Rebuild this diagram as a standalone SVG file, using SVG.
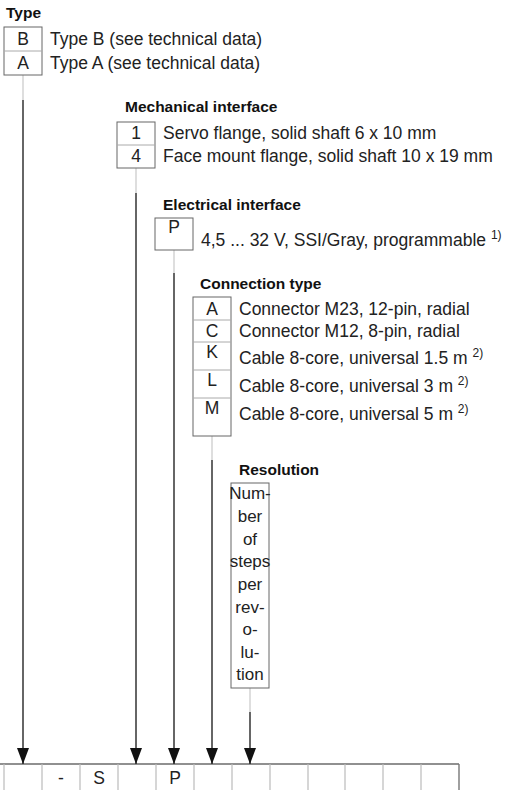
<svg xmlns="http://www.w3.org/2000/svg" width="510" height="790" viewBox="0 0 510 790">
<defs>
<style>
.t{font-family:"Liberation Sans",Arial,sans-serif;font-size:17.5px;fill:#222}
.r{font-family:"Liberation Sans",Arial,sans-serif;font-size:17px;fill:#222;text-anchor:middle}
.h{font-family:"Liberation Sans",Arial,sans-serif;font-size:15.5px;font-weight:bold;fill:#111}
.c{text-anchor:middle}
.box{fill:#fff;stroke:#666;stroke-width:1}
.dv{stroke:#aaa;stroke-width:1}
.lg{stroke:#c8c8c8;stroke-width:1.2;fill:none}
.ld{stroke:#333;stroke-width:1.5;fill:none}
.cell{stroke:#bbb;stroke-width:1.2}
</style>
<marker id="arr" viewBox="0 0 16 12" refX="16" refY="6" markerWidth="16" markerHeight="12" markerUnits="userSpaceOnUse" orient="auto">
<path d="M0,0 L16,6 L0,12 z" fill="#111"/>
</marker>
</defs>
<rect width="510" height="790" fill="#fff"/>

<g id="connectors">
<line class="lg" x1="23" y1="75" x2="23" y2="100"/>
<line class="ld" x1="23" y1="100" x2="23" y2="764" marker-end="url(#arr)"/>
<line class="lg" x1="136" y1="168" x2="136" y2="193"/>
<line class="ld" x1="136" y1="193" x2="136" y2="764" marker-end="url(#arr)"/>
<line class="lg" x1="174" y1="250" x2="174" y2="273"/>
<line class="ld" x1="174" y1="273" x2="174" y2="764" marker-end="url(#arr)"/>
<line class="lg" x1="212" y1="436" x2="212" y2="460"/>
<line class="ld" x1="212" y1="460" x2="212" y2="764" marker-end="url(#arr)"/>
<line class="lg" x1="250" y1="688" x2="250" y2="712"/>
<line class="ld" x1="250" y1="712" x2="250" y2="764" marker-end="url(#arr)"/>
</g>

<g id="type">
<text class="h" x="6" y="18">Type</text>
<rect class="box" x="4" y="27" width="38" height="48"/>
<line class="dv" x1="4" y1="51" x2="42" y2="51"/>
<text class="t c" x="23" y="45">B</text>
<text class="t c" x="23" y="69">A</text>
<text class="t" x="50" y="45">Type B (see technical data)</text>
<text class="t" x="50" y="69">Type A (see technical data)</text>
</g>

<g id="mechanical">
<text class="h" x="125" y="112">Mechanical interface</text>
<rect class="box" x="117" y="122" width="38" height="46"/>
<line class="dv" x1="117" y1="145" x2="155" y2="145"/>
<text class="t c" x="136" y="139">1</text>
<text class="t c" x="136" y="162">4</text>
<text class="t" x="163" y="139">Servo flange, solid shaft 6 x 10 mm</text>
<text class="t" x="163" y="162">Face mount flange, solid shaft 10 x 19 mm</text>
</g>

<g id="electrical">
<text class="h" x="163" y="210">Electrical interface</text>
<rect class="box" x="155" y="218" width="38" height="32"/>
<text class="t c" x="174" y="233">P</text>
<text class="t" x="201" y="246">4,5 ... 32 V, SSI/Gray, programmable <tspan font-size="12" dy="-7">1)</tspan></text>
</g>

<g id="connection">
<text class="h" x="200" y="289">Connection type</text>
<rect class="box" x="193" y="297" width="38" height="139"/>
<line class="dv" x1="193" y1="320" x2="231" y2="320"/>
<line class="dv" x1="193" y1="342" x2="231" y2="342"/>
<line class="dv" x1="193" y1="370" x2="231" y2="370"/>
<line class="dv" x1="193" y1="398" x2="231" y2="398"/>
<text class="t c" x="212" y="315">A</text>
<text class="t c" x="212" y="337">C</text>
<text class="t c" x="212" y="358">K</text>
<text class="t c" x="212" y="386">L</text>
<text class="t c" x="212" y="414">M</text>
<text class="t" x="239" y="315">Connector M23, 12-pin, radial</text>
<text class="t" x="239" y="337">Connector M12, 8-pin, radial</text>
<text class="t" x="239" y="364">Cable 8-core, universal 1.5 m <tspan font-size="12" dy="-7">2)</tspan></text>
<text class="t" x="239" y="392">Cable 8-core, universal 3 m <tspan font-size="12" dy="-7">2)</tspan></text>
<text class="t" x="239" y="420">Cable 8-core, universal 5 m <tspan font-size="12" dy="-7">2)</tspan></text>
</g>

<g id="resolution">
<text class="h" x="239" y="475">Resolution</text>
<rect class="box" x="231" y="483" width="38" height="205"/>
<text class="r" x="250" y="499">Num-</text>
<text class="r" x="250" y="522">ber</text>
<text class="r" x="250" y="545">of</text>
<text class="r" x="250" y="567">steps</text>
<text class="r" x="250" y="590">per</text>
<text class="r" x="250" y="613">rev-</text>
<text class="r" x="250" y="635">o-</text>
<text class="r" x="250" y="658">lu-</text>
<text class="r" x="250" y="680">tion</text>
</g>

<g id="typecode">
<line x1="0" y1="764" x2="459" y2="764" stroke="#222" stroke-width="1.2"/>
<line class="cell" x1="4" y1="764" x2="4" y2="790"/>
<line class="cell" x1="42" y1="764" x2="42" y2="790"/>
<line class="cell" x1="80" y1="764" x2="80" y2="790"/>
<line class="cell" x1="118" y1="764" x2="118" y2="790"/>
<line class="cell" x1="156" y1="764" x2="156" y2="790"/>
<line class="cell" x1="194" y1="764" x2="194" y2="790"/>
<line class="cell" x1="232" y1="764" x2="232" y2="790"/>
<line class="cell" x1="270" y1="764" x2="270" y2="790"/>
<line class="cell" x1="308" y1="764" x2="308" y2="790"/>
<line class="cell" x1="345" y1="764" x2="345" y2="790"/>
<line class="cell" x1="383" y1="764" x2="383" y2="790"/>
<line class="cell" x1="421" y1="764" x2="421" y2="790"/>
<line x1="459" y1="764" x2="459" y2="790" stroke="#777" stroke-width="1.4"/>
<text class="t c" x="61" y="784">-</text>
<text class="t c" x="99" y="784">S</text>
<text class="t c" x="175" y="784">P</text>
</g>
</svg>
